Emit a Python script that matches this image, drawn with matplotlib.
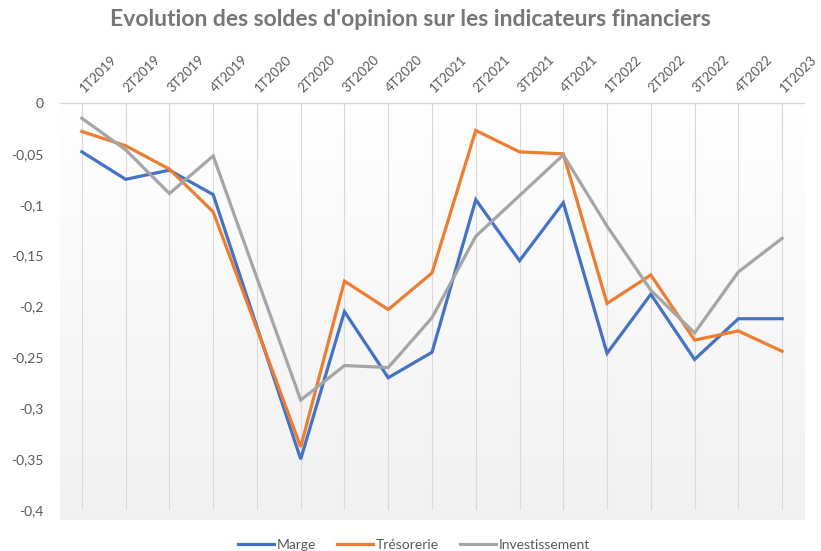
import numpy as np
import matplotlib
matplotlib.use("Agg")
import matplotlib.pyplot as plt
from matplotlib.ticker import FuncFormatter

plt.rcParams['font.family'] = ['Lato', 'DejaVu Sans']

quarters = ['1T2019', '2T2019', '3T2019', '4T2019', '1T2020', '2T2020', '3T2020', '4T2020',
            '1T2021', '2T2021', '3T2021', '4T2021', '1T2022', '2T2022', '3T2022', '4T2022',
            '1T2023']

marge = [-0.048, -0.075, -0.066, -0.090, -0.220, -0.350, -0.205, -0.270,
         -0.245, -0.095, -0.155, -0.098, -0.246, -0.188, -0.252, -0.212, -0.212]
tresorerie = [-0.028, -0.042, -0.065, -0.107, -0.222, -0.338, -0.175, -0.203,
              -0.167, -0.027, -0.048, -0.050, -0.197, -0.169, -0.233, -0.224, -0.244]
investissement = [-0.015, -0.046, -0.089, -0.052, -0.172, -0.292, -0.258, -0.260,
                  -0.211, -0.131, -0.091, -0.051, -0.121, -0.184, -0.226, -0.166, -0.133]

series = [('Marge', marge, '#4472C4'),
          ('Trésorerie', tresorerie, '#ED7D31'),
          ('Investissement', investissement, '#A5A5A5')]

W, H = 821, 551
fig = plt.figure(figsize=(W / 100, H / 100), dpi=100)
ax = fig.add_axes([60 / W, 1 - 510 / H, (804 - 60) / W, (510 - 103) / H])

x = np.arange(len(quarters))
ax.set_xlim(-0.5, len(quarters) - 0.5)
ax.set_ylim(-0.4, 0)

# plot area background: white to light grey gradient
grad = np.linspace(1.0, 0.945, 256).reshape(-1, 1)
ax.imshow(np.dstack([grad, grad, grad]), extent=[-0.5, len(quarters) - 0.5, -0.41, 0],
          aspect='auto', zorder=0, clip_on=False)

for name, vals, col in series:
    ax.plot(x, vals, color=col, lw=2.3, label=name, zorder=3, solid_joinstyle='miter')

ax.set_xticks(x)
ax.set_xticklabels(quarters)
ax.xaxis.tick_top()
ax.tick_params(axis='x', length=0, pad=9, colors='#595959', labelsize=9.5)
for lbl in ax.get_xticklabels():
    lbl.set_rotation(45)
    lbl.set_rotation_mode('anchor')
    lbl.set_ha('left')
    lbl.set_va('center')

ax.set_yticks(np.arange(0, -0.401, -0.05))
ax.yaxis.set_major_formatter(FuncFormatter(
    lambda v, p: '0' if abs(v) < 1e-9 else ('%g' % round(v, 2)).replace('.', ',')))
ax.tick_params(axis='y', length=0, pad=12, colors='#595959', labelsize=10)

ax.grid(axis='x', color='#d9d9d9', lw=0.8, zorder=1)
ax.set_axisbelow(True)
for s in ['left', 'right', 'bottom']:
    ax.spines[s].set_visible(False)
ax.spines['top'].set_color('#d9d9d9')
ax.spines['top'].set_linewidth(1)

fig.text(0.5, 1 - 19 / H, "Evolution des soldes d'opinion sur les indicateurs financiers",
         ha='center', va='center', fontsize=16.5, fontweight='bold', color='#767676')

fig.legend(loc='center', bbox_to_anchor=(414 / W, 1 - 545 / H), ncol=3, frameon=False,
           fontsize=10, handlelength=2.6, handletextpad=0.2, columnspacing=1.5,
           labelcolor='#595959')

fig.savefig('out.png', dpi=100)
